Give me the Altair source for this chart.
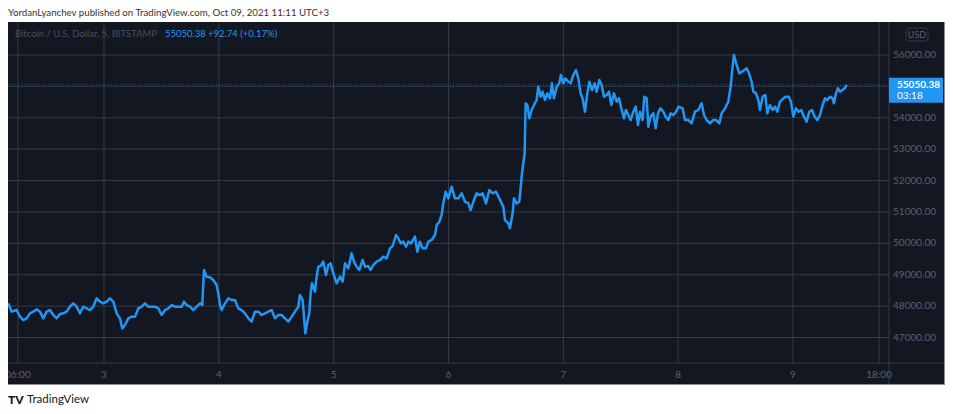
import altair as alt
import pandas as pd

# ---- data ----
# time: hours counted from 2021-09-30 00:00 (so hours/24 = day of October)
hours_a = [52.00, 52.70, 53.75, 54.44, 55.14, 55.84, 56.53, 57.23, 57.93, 58.62, 59.32, 60.02, 60.71, 61.41,
           62.11, 62.80, 63.50, 64.20, 64.89, 65.59, 66.29, 66.98, 67.68, 68.38, 69.07, 69.77, 70.47, 71.16,
           71.86, 72.56, 73.25, 73.95, 74.65, 75.34, 75.83, 76.39, 77.09, 77.78, 78.48, 79.18, 79.87, 80.57,
           81.27, 81.96, 82.66, 83.36, 84.05, 84.75, 85.45, 86.14, 86.84, 87.54, 88.23, 88.72, 89.28, 89.98,
           90.67, 91.37, 92.07, 92.55, 92.90, 93.46, 94.15, 94.85, 95.55, 95.90, 96.24, 96.59, 97.29, 97.99,
           98.68, 99.38, 100.08, 100.77, 101.47, 102.17, 102.86, 103.56, 104.26, 104.95, 105.65, 106.35,
           107.04, 107.74, 108.44, 109.13, 109.83, 110.53, 111.22, 111.92, 112.62]
prices_a = [48089, 47823, 47876, 47664, 47557, 47611, 47770, 47823, 47897, 47823, 47611, 47823, 47876, 47717,
            47611, 47750, 47770, 47823, 47982, 48089, 47982, 47770, 47982, 47929, 47876, 47982, 48248, 48142,
            48089, 48142, 48248, 48142, 47770, 47611, 47292, 47398, 47611, 47664, 47664, 47929, 47982, 48089,
            47982, 47982, 47982, 47929, 47717, 47876, 47929, 48035, 47982, 47982, 47982, 48142, 48035, 47982,
            47876, 47982, 48089, 48035, 49150, 48938, 48917, 48832, 48673, 48407, 48035, 47876, 48089, 48248,
            48195, 48195, 47929, 47876, 47770, 47611, 47504, 47823, 47823, 47717, 47770, 47823,
            47876, 47611, 47717, 47717, 47611, 47504, 47664, 47823, 47982]

hours_b = [112.96, 113.52, 113.80, 114.08, 114.50, 114.91, 115.19, 115.47, 115.75, 116.10, 116.45, 116.80,
           117.28, 117.84, 118.40, 118.89, 119.37, 119.93, 120.63, 121.32, 121.88, 122.37, 123.07, 123.76,
           124.25, 124.81, 125.36, 126.06, 126.55, 127.25, 127.73, 128.29, 128.99, 129.68, 130.38, 131.08,
           131.77, 132.33, 133.03, 133.52, 134.00, 134.56, 135.12, 135.61, 136.16, 137.00, 137.49, 138.04,
           138.60, 139.30, 139.79, 140.48, 141.18, 141.53, 142.09, 142.57, 142.92, 143.41, 143.97, 144.66,
           145.36, 146.06, 146.75, 147.45, 148.15, 148.63, 149.19, 149.89, 150.59, 151.14, 151.84, 152.54,
           153.23, 153.93, 154.63, 155.11]
prices_b = [48354, 48195, 47664, 47133, 47504, 47770, 48407, 48726, 48619, 48460, 48938, 49257,
            49278, 49416, 48991, 49310, 49363, 49044, 48726, 48938, 48779, 49363, 49203, 49681,
            49416, 49257, 49150, 49469, 49257, 49278, 49150, 49310, 49416, 49469, 49575, 49522,
            49841, 49915, 50265, 50159, 50000, 50053, 49894, 50053, 50000, 50212, 49734, 50053,
            49841, 49841, 50053, 50106, 50265, 50584, 50690, 50902, 51274, 51646, 51433, 51805,
            51433, 51433, 51593, 51327, 51274, 51062, 51327, 51593, 51540, 51593, 51274, 51699,
            51593, 51646, 51433, 51274]

hours_c = [155.46, 155.81, 156.51, 156.85, 157.41, 157.69, 158.25, 158.80, 159.08, 159.36, 159.64, 159.92,
           160.13, 160.48, 160.90, 161.38, 161.87, 162.43, 162.78, 163.26, 163.68, 164.17, 164.66, 165.21,
           165.63, 166.05, 166.61, 167.16, 167.51, 168.00, 168.42, 169.05, 169.53, 170.09, 170.65, 171.14,
           171.62, 172.04, 172.53, 173.02, 173.44, 173.99, 174.55, 174.97, 175.53, 176.01, 176.50, 177.06,
           177.55, 178.03, 178.59, 179.15, 179.64, 180.12, 180.68, 181.10, 181.59, 182.07, 182.63, 183.12,
           183.61, 184.03, 184.58, 184.93, 185.42, 185.77, 186.26, 186.81, 187.30, 187.79, 188.28, 188.90,
           189.39, 189.95, 190.44, 191.00, 191.55, 192.11]
prices_c = [51168, 50743, 50637, 50478, 50956, 51433, 51274, 51327, 51752, 52230, 52548, 52867,
            54460, 54407, 53982, 54248, 54407, 54566, 54991, 54672, 54832, 54566, 54778, 54619,
            55097, 54619, 54991, 55097, 55362, 55097, 55256, 55150, 55097, 55362, 55522, 55256,
            54778, 54619, 54194, 54778, 55150, 54885, 55097, 54832, 55203, 55044, 54672, 54725,
            54832, 54407, 54778, 54513, 54619, 54301, 53982, 54248, 54088, 53929, 54194, 54354,
            53770, 54194, 53929, 54672, 54619, 53717, 54035, 54141, 53663, 54141, 54301, 54194,
            54035, 53929, 54141, 54088, 54194, 54354]

hours_d = [192.94, 193.43, 194.13, 194.82, 195.52, 196.22, 196.91, 197.40, 197.96, 198.65, 199.35, 199.91,
           200.61, 201.09, 201.79, 202.49, 202.97, 203.39, 203.67, 204.23, 204.79, 205.34, 205.83, 206.32,
           206.81, 207.36, 207.71, 208.27, 208.76, 209.10, 209.66, 210.22, 210.64, 211.19, 211.75, 212.24,
           212.73, 213.29, 213.98, 214.54, 215.10, 215.58, 216.07, 216.63, 217.19, 217.74, 218.30, 218.86,
           219.42, 219.97, 220.53, 221.09, 221.65, 222.20, 222.69, 223.18, 223.74, 224.29, 224.57, 224.99,
           225.41, 225.83, 226.31, 226.80, 227.22]
prices_d = [54301, 53929, 53929, 53823, 54194, 54248, 54460, 54088, 53929, 53823, 53929, 53929,
            53823, 54141, 54301, 54513, 54991, 55628, 56000, 55681, 55416, 55469, 55522, 55575,
            55416, 55150, 54832, 54778, 54566, 54248, 54672, 54725, 54141, 54407, 54248, 54354,
            54194, 54513, 54619, 54672, 54672, 54513, 54035, 54301, 54194, 54248, 54035, 53876,
            54194, 54248, 54035, 53929, 54088, 54407, 54619, 54566, 54672, 54619, 54460, 54778,
            54938, 54832, 54885, 54938, 55050.38]

# price grid levels and the price labels that are visible (55000 sits under the price box)
y_ticks = [47000, 48000, 49000, 50000, 51000, 52000, 53000, 54000, 55000, 56000]
y_labeled = [47000, 48000, 49000, 50000, 51000, 52000, 53000, 54000, 56000]
x_ticks = [2.25, 3, 4, 5, 6, 7, 8, 9, 9.75]
x_labels = ["06:00", "3", "4", "5", "6", "7", "8", "9", "18:00"]

last_price = 55050.38
change_text = "+92.74 (+0.17%)"
countdown = "03:18"
symbol_text = "Bitcoin / U.S. Dollar, 5, BITSTAMP"
author_text = "YordanLyanchev published on TradingView.com, Oct 09, 2021 11:11 UTC+3"

# ---- tables ----
hours = hours_a + hours_b + hours_c + hours_d
prices = prices_a + prices_b + prices_c + prices_d
df = pd.DataFrame({"day": [h / 24 for h in hours], "price": prices})
ygrid = pd.DataFrame({"v": y_ticks})
ylab = pd.DataFrame({"v": y_labeled, "lab": [f"{v:.2f}" for v in y_labeled]})
xgrid = pd.DataFrame({"d": x_ticks, "lab": x_labels})
last_df = pd.DataFrame({"price": [last_price], "t1": [f"{last_price:.2f}"], "t2": [countdown]})
one = pd.DataFrame({"a": [0]})

BG = "#131722"
GRID = "#363a45"
BLUE = "#2196f3"
LABEL = "#5d606b"
FONT = "Lato"

W, H = 881, 341
xs = alt.Scale(domain=[2.1642, 9.8363], nice=False, zero=False)
ys = alt.Scale(domain=[46188, 57051], nice=False, zero=False)

panel = alt.Chart(one).mark_rect(fill=BG).encode(
    x=alt.value(0), x2=alt.value(937), y=alt.value(0), y2=alt.value(362))

hgrid = alt.Chart(ygrid).mark_rule(color=GRID, strokeWidth=1).encode(
    y=alt.Y("v:Q", scale=ys, axis=None))
vgrid = alt.Chart(xgrid).mark_rule(color=GRID, strokeWidth=1).encode(
    x=alt.X("d:Q", scale=xs, axis=None))

sep_v = alt.Chart(one).mark_rule(color="#363a45", strokeWidth=1).encode(
    x=alt.value(W), y=alt.value(0), y2=alt.value(362))
sep_h = alt.Chart(one).mark_rule(color="#363a45", strokeWidth=1).encode(
    x=alt.value(0), x2=alt.value(937), y=alt.value(H))
edge_b = alt.Chart(one).mark_rule(color="#8a8d96", strokeWidth=1).encode(
    x=alt.value(0), x2=alt.value(937), y=alt.value(362.5))
edge_r = alt.Chart(one).mark_rule(color="#8a8d96", strokeWidth=1).encode(
    x=alt.value(936.5), y=alt.value(0), y2=alt.value(363))

ylabels = alt.Chart(ylab).mark_text(color=LABEL, font=FONT, fontSize=10, align="right",
                                    baseline="middle").encode(
    x=alt.value(928), y=alt.Y("v:Q", scale=ys, axis=None), text="lab:N")
xlabels = alt.Chart(xgrid).mark_text(color=LABEL, font=FONT, fontSize=10, align="center",
                                     baseline="middle").encode(
    x=alt.X("d:Q", scale=xs, axis=None), y=alt.value(H + 12), text="lab:N")

price_line = alt.Chart(last_df).mark_rule(color=BLUE, strokeDash=[1, 2], opacity=0.6, strokeWidth=1).encode(
    y=alt.Y("price:Q", scale=ys, axis=None))

line = alt.Chart(df).mark_line(color=BLUE, strokeWidth=2.5, strokeJoin="round").encode(
    x=alt.X("day:Q", scale=xs, axis=None),
    y=alt.Y("price:Q", scale=ys, axis=None),
)

box = alt.Chart(last_df).mark_rect(color=BLUE, yOffset=-7, y2Offset=18).encode(
    x=alt.value(W), x2=alt.value(935), y=alt.Y("price:Q", scale=ys, axis=None), y2="price:Q")
box_t1 = alt.Chart(last_df).mark_text(color="white", font=FONT, fontSize=10, fontWeight="bold",
                                      align="left", baseline="middle").encode(
    x=alt.value(889), y=alt.Y("price:Q", scale=ys, axis=None), text="t1:N")
box_t2 = alt.Chart(last_df).mark_text(color="white", font=FONT, fontSize=10, align="left",
                                      baseline="middle", dy=11).encode(
    x=alt.value(889), y=alt.Y("price:Q", scale=ys, axis=None), text="t2:N")

usd_box = alt.Chart(one).mark_rect(fill=BG, stroke="#363a45", cornerRadius=3).encode(
    x=alt.value(898), x2=alt.value(920), y=alt.value(6), y2=alt.value(19))
usd_t = alt.Chart(pd.DataFrame({"t": ["USD"]})).mark_text(color=LABEL, font=FONT, fontSize=9,
                                                         align="center", baseline="middle").encode(
    x=alt.value(909), y=alt.value(12.5), text="t:N")

sym_t = alt.Chart(pd.DataFrame({"t": [symbol_text]})).mark_text(
    color="#4a4e5a", font=FONT, fontSize=9.5, align="left", baseline="middle").encode(
    x=alt.value(7), y=alt.value(12), text="t:N")
price_t = alt.Chart(pd.DataFrame({"t": [f"{last_price:.2f}"]})).mark_text(
    color=BLUE, font=FONT, fontSize=9.5, align="left", baseline="middle").encode(
    x=alt.value(157), y=alt.value(12), text="t:N")
chg_t = alt.Chart(pd.DataFrame({"t": [change_text]})).mark_text(
    color=BLUE, font=FONT, fontSize=9.5, align="left", baseline="middle").encode(
    x=alt.value(200), y=alt.value(12), text="t:N")

author_t = alt.Chart(pd.DataFrame({"t": [author_text]})).mark_text(
    color="#333333", font=FONT, fontSize=9.7, align="left", baseline="middle").encode(
    x=alt.value(0), y=alt.value(-9), text="t:N")
logo_icon = alt.Chart(pd.DataFrame({"t": ["TV"]})).mark_text(
    color="#131722", font=FONT, fontSize=12, fontWeight=900, align="left", baseline="middle").encode(
    x=alt.value(0), y=alt.value(378), text="t:N")
logo_t = alt.Chart(pd.DataFrame({"t": ["TradingView"]})).mark_text(
    color="#131722", font=FONT, fontSize=11.5, align="left", baseline="middle").encode(
    x=alt.value(19), y=alt.value(378), text="t:N")

chart = alt.layer(
    panel, hgrid, vgrid, sep_v, sep_h, edge_b, edge_r, ylabels, xlabels, price_line, line,
    box, box_t1, box_t2, usd_box, usd_t, sym_t, price_t, chg_t, author_t, logo_icon, logo_t
).properties(
    width=W, height=H,
    autosize=alt.AutoSizeParams(type="none"),
    padding={"left": 0, "top": 14, "right": 56, "bottom": 43},
    background="white",
).configure_view(stroke="transparent")

chart.save("out.html", embed_options={"renderer": "svg", "actions": False})
